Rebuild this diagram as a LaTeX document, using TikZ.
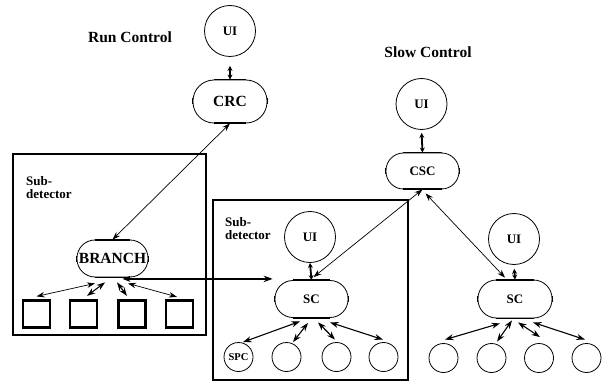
\documentclass[tikz,border=0pt]{standalone}
\usepackage{fontspec}
\setmainfont{Liberation Serif}
\usetikzlibrary{arrows.meta,calc}
\newcommand\bigfnt{\fontsize{15.5}{17}\selectfont\bfseries}
\newcommand\midfnt{\fontsize{13}{13}\selectfont\bfseries}
\newcommand\smlfnt{\fontsize{10.5}{11}\selectfont\bfseries}
\newcommand\stadfx[2]{%
  \draw[line width=1.8pt] ([xshift=#2]#1.north west) -- ([xshift=-#2]#1.north east);
  \draw[line width=1.8pt] ([xshift=#2]#1.south west) -- ([xshift=-#2]#1.south east);
  \draw[line width=1.6pt] ([yshift=3pt]#1.west) -- ([yshift=-3pt]#1.west);
  \draw[line width=1.6pt] ([yshift=3pt]#1.east) -- ([yshift=-3pt]#1.east);
}
\begin{document}
\begin{tikzpicture}[x=1pt,y=-1pt,
  lbl/.style={inner sep=0pt,font=\bigfnt},
  sub/.style={inner sep=0pt,font=\midfnt,align=left,anchor=west},
  ui/.style={circle,draw,line width=0.8pt,minimum size=51pt,inner sep=0pt,font=\midfnt},
  leaf/.style={circle,draw,line width=0.8pt,minimum size=29pt,inner sep=0pt,font=\smlfnt},
  stad/.style={draw,line width=0.8pt,inner sep=0pt},
  sqbox/.style={draw,line width=2.2pt,minimum size=27pt,inner sep=0pt},
  frame/.style={draw,line width=2.2pt,inner sep=0pt},
  arr/.style={{Stealth[length=8pt,width=5.5pt]}-{Stealth[length=8pt,width=5.5pt]},line width=0.7pt},
  arrmid/.style={{Stealth[length=8.5pt,width=6pt]}-{Stealth[length=8.5pt,width=6pt]},line width=1.1pt},
  arrthick/.style={{Stealth[length=5pt,width=5pt]}-{Stealth[length=5pt,width=5pt]},line width=1.8pt},
  arrbig/.style={{Stealth[length=8pt,width=6pt]}-{Stealth[length=9pt,width=6.5pt]},line width=2pt}
]
\useasboundingbox (0,0) rectangle (602,382);

% frames
\node[frame,minimum width=193pt,minimum height=181pt] (box1) at (109.5,244.5) {};
\node[frame,minimum width=195pt,minimum height=180pt] (box2) at (310.5,290) {};

% titles
\node[lbl] (rc) at (130,37) {Run Control};
\node[lbl] (slc) at (428,52) {Slow Control};
\node[sub] (sd1) at (26,188) {Sub-\\detector};
\node[sub] (sd2) at (225,228.5) {Sub-\\detector};

% run control
\node[ui] (ui1) at (230,31) {UI};
\node[stad,minimum width=74pt,minimum height=43pt,rounded corners=21pt,font=\bigfnt] (crc) at (230,101.5) {CRC};
\node[stad,minimum width=71pt,minimum height=37pt,rounded corners=18pt,font=\bigfnt] (branch) at (112.5,258.5) {BRANCH};
\node[sqbox] (sq1) at (36.5,314) {};
\node[sqbox] (sq2) at (83.5,314) {};
\node[sqbox] (sq3) at (132,314) {};
\node[sqbox] (sq4) at (179.5,314) {};

% slow control
\node[ui] (ui3) at (421.5,104) {UI};
\node[stad,minimum width=73pt,minimum height=36pt,rounded corners=17.5pt,font=\midfnt] (csc) at (422.5,171) {CSC};
\node[ui] (ui2) at (310,237) {UI};
\node[stad,minimum width=73pt,minimum height=37pt,rounded corners=18pt,font=\midfnt] (sc1) at (311.5,299) {SC};
\node[ui] (ui4) at (514,239) {UI};
\node[stad,minimum width=74pt,minimum height=38pt,rounded corners=18.5pt,font=\midfnt] (sc2) at (515,299) {SC};

\node[leaf] (c1) at (238.5,357) {SPC};
\node[leaf] (c2) at (286.5,357) {};
\node[leaf] (c3) at (336.5,357) {};
\node[leaf] (c4) at (383.5,357) {};
\node[leaf] (d1) at (443.5,358) {};
\node[leaf] (d2) at (491.5,358) {};
\node[leaf] (d3) at (539,358) {};
\node[leaf] (d4) at (586.5,358) {};

\stadfx{crc}{21pt}
\stadfx{branch}{18pt}
\stadfx{csc}{17.5pt}
\stadfx{sc1}{18pt}
\stadfx{sc2}{18.5pt}

% connectors
\draw[arrthick,shorten <=9pt] (ui1.south) -- (crc.north);
\draw[arr] (crc.south) -- (branch.north);
\draw[arrbig,shorten >=2pt] ($(branch.south)+(10,1.5)$) coordinate (bs) -- (bs -| sc1.west);
\draw[arrthick,shorten <=3pt] (ui3.south) -- (csc.north);
\draw[arrthick] (ui2.south) -- (sc1.north);
\draw[arrthick,shorten <=4pt] (ui4.south) -- (sc2.north);
\draw[arr] (csc.south) -- ($(sc1.north)+(2,-3)$);
\draw[arr] ($(csc.south)+(3,4)$) -- ($(sc2.north)+(-10,-2)$);

\draw[arr] ($(branch.south)+(-17.5,6)$) -- ($(sq1.north)+(0,-3)$);
\draw[arrmid] ($(branch.south)+(-7.5,5)$) -- ($(sq2.north)+(3.5,-3.5)$);
\draw[arrmid] ($(branch.south)+(4.5,5)$) -- ($(sq3.north)+(-5,-3.5)$);
\draw[arr] ($(branch.south)+(15.5,6)$) -- ($(sq4.north)+(-2.5,-2.5)$);

\draw[arrmid] ($(sc1.south)+(-11.5,3.5)$) -- ($(c1.north)+(4.5,0)$);
\draw[arrmid] ($(sc1.south)+(-3.5,5)$) -- ($(c2.north)+(6.5,0)$);
\draw[arrmid] ($(sc1.south)+(6.5,4.5)$) -- ($(c3.north)+(-1.5,-2.5)$);
\draw[arrmid] ($(sc1.south)+(18.5,4.5)$) -- ($(c4.north)+(-0.5,-2.5)$);

\draw[arrmid] ($(sc2.south)+(-15,5)$) -- ($(d1.north)+(1.5,-3.5)$);
\draw[arrmid] ($(sc2.south)+(-3,2)$) -- ($(d2.north)+(5.5,-1.5)$);
\draw[arrmid] ($(sc2.south)+(3,4)$) -- ($(d3.north)+(1,-6)$);
\draw[arrmid] ($(sc2.south)+(18,4)$) -- ($(d4.north)+(-1.5,-3.5)$);
\end{tikzpicture}
\end{document}
